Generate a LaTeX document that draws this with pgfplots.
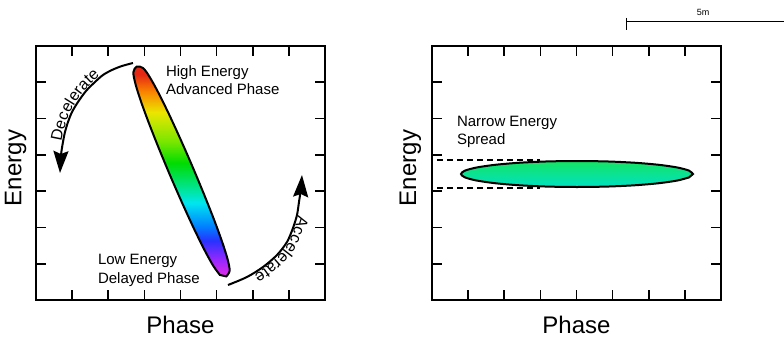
\documentclass[border=0pt]{standalone}
\usepackage{pgfplots}
\pgfplotsset{compat=1.18}
\usepackage{fontspec}
\setmainfont{Liberation Sans}
\usetikzlibrary{arrows.meta,decorations.text}

\definecolor{cR}{RGB}{228,40,20}
\definecolor{cO}{RGB}{250,130,0}
\definecolor{cY}{RGB}{235,230,0}
\definecolor{cYG}{RGB}{120,230,0}
\definecolor{cG}{RGB}{0,220,0}
\definecolor{cCG}{RGB}{0,230,170}
\definecolor{cC}{RGB}{0,230,240}
\definecolor{cB2}{RGB}{0,130,255}
\definecolor{cB}{RGB}{40,50,255}
\definecolor{cV}{RGB}{150,40,255}
\definecolor{cM}{RGB}{230,40,230}
\definecolor{eTop}{RGB}{20,228,100}
\definecolor{eBot}{RGB}{0,225,195}

\pgfdeclareverticalshading{rainbow}{100bp}{color(0bp)=(cM); color(25bp)=(cM); color(29bp)=(cV); color(33.5bp)=(cB); color(37bp)=(cB2); color(42.5bp)=(cC); color(45bp)=(cCG); color(52bp)=(cG); color(57bp)=(cYG); color(64bp)=(cY); color(69bp)=(cO); color(73bp)=(cR); color(100bp)=(cR)}

\pgfplotsset{phasebox/.style={
  scale only axis, width=289pt, height=254pt, anchor=south west,
  xmin=0, xmax=8, ymin=0, ymax=7,
  xtick={1,2,3,4,5,6,7}, ytick={1,2,3,4,5,6},
  xticklabels={}, yticklabels={},
  tick align=inside, major tick length=10pt,
  tick pos=both,
  tick style={black, line width=1.7pt},
  axis line style={line width=1.8pt},
}}

\tikzset{bighead/.tip={Stealth[length=22pt,width=15pt,inset=3pt]}}

\begin{document}
\begin{tikzpicture}
\path[use as bounding box] (0pt,0pt) rectangle (784pt,339pt);

% ---------------- left panel ----------------
\begin{axis}[phasebox, at={(36pt,39pt)}]
  % tilted bunch (wide energy spread)
  \addplot[draw=black, line width=2pt, shade, shading=rainbow, smooth] coordinates {
    (5.268,0.650) (5.361,0.806) (5.304,1.123) (5.153,1.602) (4.928,2.215) (4.648,2.920)
    (4.334,3.671) (4.006,4.417) (3.688,5.106) (3.399,5.691) (3.156,6.130) (2.966,6.391)
    (2.788,6.432) (2.695,6.276) (2.752,5.959) (2.903,5.480) (3.128,4.867) (3.408,4.162)
    (3.722,3.411) (4.050,2.665) (4.368,1.976) (4.657,1.391) (4.900,0.952) (5.090,0.691)
  } -- cycle;
  % decelerate arrow
  \addplot[black, line width=2pt, smooth, -bighead] coordinates {
    (2.685,6.531) (2.381,6.449) (2.104,6.339) (1.855,6.201) (1.633,6.008) (1.384,5.760)
    (1.163,5.457) (0.997,5.181) (0.886,4.905) (0.803,4.630) (0.747,4.354) (0.692,3.996) (0.664,3.500)
  };
  \addplot[draw=none, smooth, postaction={decorate},
    decoration={text along path, raise=1.5pt, text={|\fontsize{16}{16}\selectfont|Decelerate}}] coordinates {
    (0.747,4.354) (0.803,4.630) (0.886,4.905) (0.997,5.181) (1.163,5.457) (1.384,5.760)
    (1.633,6.008) (1.855,6.201) (2.104,6.339) (2.381,6.449) (2.685,6.531)
  };
  % accelerate arrow
  \addplot[black, line width=2pt, smooth, -bighead] coordinates {
    (5.315,0.413) (5.841,0.634) (6.284,0.909) (6.671,1.240) (6.948,1.598) (7.114,1.984)
    (7.225,2.343) (7.280,2.701) (7.336,3.087) (7.363,3.445)
  };
  \addplot[draw=none, smooth, postaction={decorate},
    decoration={text along path, raise=1.5pt, text={|\fontsize{16}{16}\selectfont|Accelerate}}] coordinates {
    (7.225,2.343) (7.114,1.984) (6.948,1.598) (6.671,1.240) (6.284,0.909) (5.841,0.634) (5.315,0.413)
  };
\end{axis}

% ---------------- right panel ----------------
\begin{axis}[phasebox, at={(432pt,39pt)}]
  \addplot[black, line width=1.6pt, dash pattern=on 6pt off 4pt] coordinates {(0.14,3.85) (3.0,3.85)};
  \addplot[black, line width=1.6pt, dash pattern=on 6pt off 4pt] coordinates {(0.14,3.09) (3.0,3.09)};
  \addplot[draw=black, line width=2pt, top color=eTop, bottom color=eBot, smooth] coordinates {
    (7.225,3.472) (7.116,3.565) (6.795,3.651) (6.285,3.725) (5.620,3.782) (4.845,3.818)
    (4.014,3.830) (3.183,3.818) (2.409,3.782) (1.743,3.725) (1.233,3.651) (0.912,3.565)
    (0.803,3.472) (0.912,3.379) (1.233,3.293) (1.743,3.219) (2.409,3.162) (3.183,3.126)
    (4.014,3.114) (4.845,3.126) (5.620,3.162) (6.285,3.219) (6.795,3.293) (7.116,3.379)
  } -- cycle;
\end{axis}

% ---------------- annotations ----------------
\begin{scope}[every node/.style={inner sep=0pt, outer sep=0pt}]
\node[anchor=base west, font=\fontsize{15}{18}\selectfont] at (166pt,262pt) {High Energy};
\node[anchor=base west, font=\fontsize{15}{18}\selectfont] at (166pt,244pt) {Advanced Phase};
\node[anchor=base west, font=\fontsize{15}{18}\selectfont] at (98pt,74pt) {Low Energy};
\node[anchor=base west, font=\fontsize{15}{18}\selectfont] at (98pt,55pt) {Delayed Phase};
\node[anchor=base west, font=\fontsize{15}{18}\selectfont] at (457pt,212pt) {Narrow Energy};
\node[anchor=base west, font=\fontsize{15}{18}\selectfont] at (457pt,194pt) {Spread};

\node[anchor=base, rotate=90, font=\fontsize{24}{28}\selectfont] at (21.5pt,171pt) {Energy};
\node[anchor=base, rotate=90, font=\fontsize{24}{28}\selectfont] at (416pt,171pt) {Energy};
\node[anchor=base, font=\fontsize{24}{28}\selectfont] at (180.5pt,5pt) {Phase};
\node[anchor=base, font=\fontsize{24}{28}\selectfont] at (576.5pt,5pt) {Phase};

% scale bar
\draw[line width=0.8pt] (626pt,318pt) -- (784pt,318pt);
\draw[line width=0.8pt] (626pt,321pt) -- (626pt,309pt);
\node[anchor=base, font=\fontsize{9}{10}\selectfont] at (703pt,323pt) {5m};
\end{scope}
\end{tikzpicture}
\end{document}
